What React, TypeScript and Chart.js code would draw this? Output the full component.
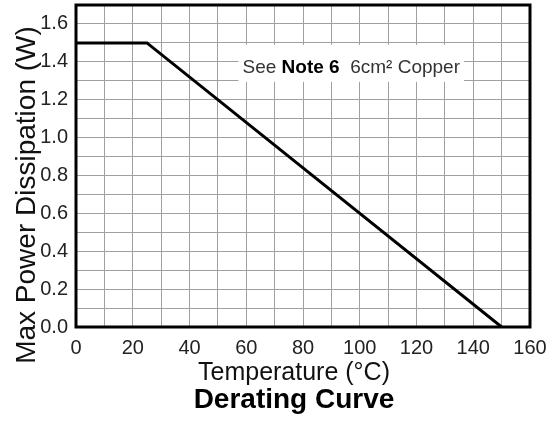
import { useEffect, useRef } from "react";
import { Chart, registerables, Plugin } from "chart.js";

Chart.register(...registerables);

// Derating curve points (temperature °C, max power W)
const temperatures = [0, 25, 150];
const maxPower = [1.5, 1.5, 0];

const xTitle = "Temperature (°C)";
const yTitle = "Max Power Dissipation (W)";
const chartTitle = "Derating Curve";
const noteParts = [
  { text: "See ", bold: false, color: "#333" },
  { text: "Note 6", bold: true, color: "#000" },
  { text: "  6cm² Copper", bold: false, color: "#333" },
];

const FONT = "'Liberation Sans', Arial, sans-serif";

// white label box with the note, centred on a data point
const notePlugin: Plugin<"line"> = {
  id: "note",
  afterDatasetsDraw(chart) {
    const { ctx, scales } = chart;
    const cx = scales.x.getPixelForValue(97);
    const cy = scales.y.getPixelForValue(1.4);
    ctx.save();
    const fonts = noteParts.map((p) => `${p.bold ? "bold " : ""}19px ${FONT}`);
    let total = 0;
    const widths = noteParts.map((p, i) => {
      ctx.font = fonts[i];
      const w = ctx.measureText(p.text).width;
      total += w;
      return w;
    });
    ctx.fillStyle = "#fff";
    ctx.fillRect(cx - total / 2 - 4, cy - 17, total + 8, 37);
    let x = cx - total / 2;
    ctx.textBaseline = "alphabetic";
    ctx.textAlign = "left";
    noteParts.forEach((p, i) => {
      ctx.font = fonts[i];
      ctx.fillStyle = p.color;
      ctx.fillText(p.text, x, cy + 11);
      x += widths[i];
    });
    ctx.restore();
  },
};

// thick frame around the plot area
const framePlugin: Plugin<"line"> = {
  id: "frame",
  beforeDatasetsDraw(chart) {
    const { ctx, chartArea } = chart;
    ctx.save();
    ctx.strokeStyle = "#000";
    ctx.lineWidth = 3;
    ctx.strokeRect(
      chartArea.left,
      chartArea.top,
      chartArea.right - chartArea.left,
      chartArea.bottom - chartArea.top,
    );
    ctx.restore();
  },
};

// axis titles and caption, placed like the datasheet figure
const titlesPlugin: Plugin<"line"> = {
  id: "titles",
  afterDraw(chart) {
    const { ctx } = chart;
    ctx.save();
    ctx.fillStyle = "#111";
    ctx.textAlign = "center";
    ctx.textBaseline = "alphabetic";
    ctx.font = `25px ${FONT}`;
    ctx.fillText(xTitle, 294, 380);
    ctx.font = `bold 28px ${FONT}`;
    ctx.fillStyle = "#000";
    ctx.fillText(chartTitle, 294, 408);
    ctx.translate(35, 195);
    ctx.rotate(-Math.PI / 2);
    ctx.font = `28px ${FONT}`;
    ctx.fillStyle = "#111";
    ctx.fillText(yTitle, 0, 0);
    ctx.restore();
  },
};

export default function App() {
  const canvasRef = useRef<HTMLCanvasElement | null>(null);

  useEffect(() => {
    document.body.style.margin = "0";
    if (!canvasRef.current) return;

    const chart = new Chart(canvasRef.current, {
      type: "line",
      data: {
        datasets: [
          {
            data: temperatures.map((t, i) => ({ x: t, y: maxPower[i] })),
            borderColor: "#000",
            borderWidth: 3,
            pointRadius: 0,
            tension: 0,
            fill: false,
          },
        ],
      },
      options: {
        animation: false,
        responsive: true,
        maintainAspectRatio: false,
        layout: { padding: { top: 5, right: 27, left: 0, bottom: 0 } },
        plugins: {
          legend: { display: false },
          tooltip: { enabled: false },
        },
        scales: {
          x: {
            type: "linear",
            min: 0,
            max: 160,
            border: { display: false },
            grid: { color: "#a0a0a0", lineWidth: 1, drawTicks: false },
            ticks: {
              stepSize: 10,
              autoSkip: false,
              maxRotation: 0,
              padding: 9,
              color: "#222",
              font: { family: FONT, size: 20 },
              callback: (v) => (Number(v) % 20 === 0 ? String(v) : ""),
            },
            afterFit: (scale) => {
              scale.height = 100;
              scale.paddingLeft = 0;
              scale.paddingRight = 0;
            },
          },
          y: {
            min: 0,
            max: 1.7,
            border: { display: false },
            grid: { color: "#a0a0a0", lineWidth: 1, drawTicks: false },
            ticks: {
              stepSize: 0.1,
              autoSkip: false,
              padding: 8,
              color: "#222",
              font: { family: FONT, size: 20 },
              callback: (v) => {
                const n = Math.round(Number(v) * 10);
                return n % 2 === 0 && n <= 16 ? (n / 10).toFixed(1) : "";
              },
            },
            afterFit: (scale) => {
              scale.width = 76;
              scale.paddingTop = 0;
              scale.paddingBottom = 0;
            },
          },
        },
      },
      plugins: [framePlugin, notePlugin, titlesPlugin],
    });

    return () => chart.destroy();
  }, []);

  return (
    <div style={{ position: "relative", width: 557, height: 427 }}>
      <canvas ref={canvasRef} />
    </div>
  );
}
